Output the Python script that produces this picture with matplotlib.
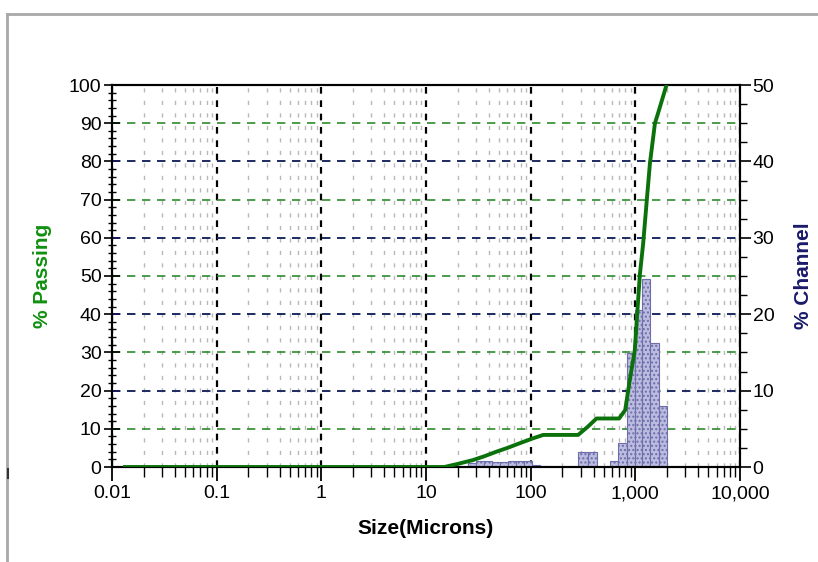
import numpy as np
import matplotlib
matplotlib.use('Agg')
from matplotlib import pyplot as plt
from matplotlib.ticker import FixedLocator, FixedFormatter, MultipleLocator, LogLocator, NullFormatter
from matplotlib.lines import Line2D

# % passing curve (cumulative)
sizes = [0.0133, 15, 20, 28, 36, 47, 60, 80, 105, 132, 284, 350, 426, 700,
         800, 886, 988, 1104, 1188, 1279, 1380, 1540, 1652, 1986]
passing = [0, 0, 0.8, 1.8, 2.8, 4.0, 5.0, 6.3, 7.5, 8.4, 8.4, 10.5, 12.7, 12.7,
           14.9, 22.8, 30.6, 50.3, 58.5, 69.0, 79.6, 90.0, 92.7, 100]

# % channel histogram bins
bin_lo = [25, 30, 36, 43, 51, 61, 73, 87, 104, 124, 282, 350, 571, 685, 824, 989, 1146, 1376, 1687]
bin_hi = [30, 36, 43, 51, 61, 73, 87, 104, 124, 148, 350, 429, 685, 824, 989, 1146, 1376, 1687, 2028]
channel = [0.5, 0.75, 0.75, 0.7, 0.6, 0.75, 0.75, 0.75, 0.2, 0.15, 2.0, 2.0,
           0.8, 3.1, 14.9, 20.5, 24.6, 16.2, 8.0]

xticks = [0.01, 0.1, 1, 10, 100, 1000, 10000]
xlabels = ['0.01', '0.1', '1', '10', '100', '1,000', '10,000']

plt.rcParams['font.family'] = ['Liberation Sans', 'DejaVu Sans']

fig = plt.figure(figsize=(8.18, 5.62), dpi=100)
ax = fig.add_axes([112 / 818, 1 - 467 / 562, 628 / 818, 382 / 562])
ax2 = ax.twinx()

green = '#0b720b'
navy = '#1a1a6a'

# left axis: % passing
ax.set_xscale('log')
ax.set_xlim(0.01, 10000)
ax.set_ylim(0, 100)
ax.yaxis.set_major_locator(MultipleLocator(10))
ax.yaxis.set_minor_locator(MultipleLocator(2))
ax.xaxis.set_major_locator(FixedLocator(xticks))
ax.xaxis.set_major_formatter(FixedFormatter(xlabels))
ax.xaxis.set_minor_locator(LogLocator(base=10, subs=np.arange(2, 10)))
ax.xaxis.set_minor_formatter(NullFormatter())

ax.grid(True, axis='y', which='major', color='#2e8b2e', linestyle=(0, (5, 4)), linewidth=1.2)
ax.grid(True, axis='x', which='major', color='black', linestyle=(0, (3, 3)), linewidth=1.6)
ax.grid(True, axis='x', which='minor', color='#b8b8b8', linestyle=(0, (3, 6)), linewidth=1.0)

# right axis: % channel
ax2.set_ylim(0, 50)
ax2.yaxis.set_major_locator(MultipleLocator(10))
ax2.yaxis.set_minor_locator(MultipleLocator(2.5))
ax2.grid(True, axis='y', which='major', color=navy, linestyle=(0, (5, 4)), linewidth=1.2)
ax2.set_axisbelow(True)
ax2.patch.set_visible(False)

widths = [h - l for l, h in zip(bin_lo, bin_hi)]
ax2.bar(bin_lo, channel, width=widths, align='edge', facecolor='#bcbce0',
        edgecolor='#6e6eaa', hatch='....', linewidth=0.8, zorder=2)

# passing curve drawn on top, in the left axis scale
ax2.plot(sizes, passing, color=green, linewidth=2.8, transform=ax.transData,
         zorder=3, clip_on=True)

for a in (ax, ax2):
    for s in a.spines.values():
        s.set_linewidth(1.5)
        s.set_color('black')

ax.tick_params(axis='y', which='major', direction='inout', length=11, width=1.2,
               labelsize=14, pad=2)
ax.tick_params(axis='y', which='minor', direction='inout', length=6, width=1.0)
ax.tick_params(axis='x', which='major', direction='out', length=10, width=1.3,
               labelsize=14, pad=3)
ax.tick_params(axis='x', which='minor', direction='out', length=7, width=1.0)
ax2.tick_params(axis='y', which='major', direction='out', length=8, width=1.2,
                labelsize=14, pad=1)
ax2.tick_params(axis='y', which='minor', direction='out', length=5, width=1.0)

ax.set_xlabel('Size(Microns)', fontsize=15, fontweight='bold', labelpad=12)
ax.set_ylabel('% Passing', fontsize=15, fontweight='bold', color='#109010', labelpad=12)
ax2.set_ylabel('% Channel', fontsize=15, fontweight='bold', color=navy, labelpad=14)

# outer frame of the chart window
fig.add_artist(Line2D([7 / 818, 1], [1 - 14 / 562, 1 - 14 / 562], transform=fig.transFigure,
                      color='#a8a8a8', linewidth=2))
fig.add_artist(Line2D([7 / 818, 7 / 818], [0, 1 - 14 / 562], transform=fig.transFigure,
                      color='#a8a8a8', linewidth=2))
fig.add_artist(Line2D([8 / 818, 8 / 818], [1 - 478 / 562, 1 - 469 / 562], transform=fig.transFigure,
                      color='#333333', linewidth=1.5))

fig.savefig('out.png', dpi=100)
